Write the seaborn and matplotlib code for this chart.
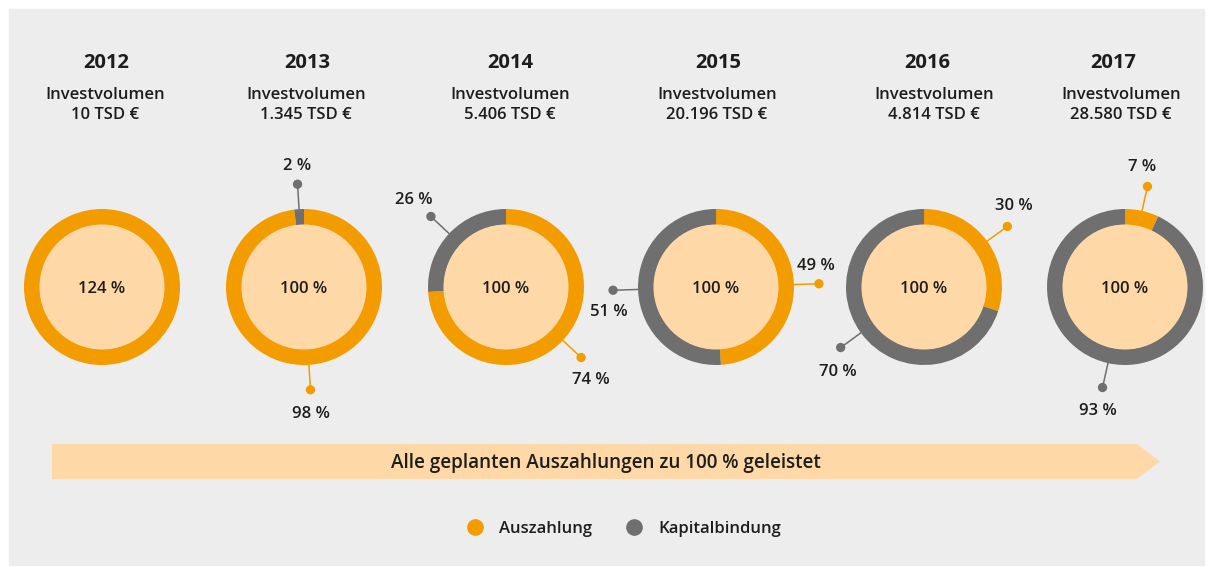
import numpy as np
import pandas as pd
import matplotlib
matplotlib.use('Agg')
import matplotlib.pyplot as plt
from matplotlib.patches import Polygon, Rectangle, Circle
import seaborn as sns

# data
years = ["2012", "2013", "2014", "2015", "2016", "2017"]
invest = ["10", "1.345", "5.406", "20.196", "4.814", "28.580"]
auszahlung = [124, 98, 74, 49, 30, 7]
kapitalbindung = [0, 2, 26, 51, 70, 93]
series = ["Auszahlung", "Kapitalbindung"]
band_text = "Alle geplanten Auszahlungen zu 100 % geleistet"

W, H = 1213, 567
ORANGE = "#f39c00"
GREY = "#6f6f6f"
PEACH = "#fed8a6"
BG = "#ededed"
TXT = "#1d1d1b"
FS = 12

sns.set_theme(style="white")
plt.rcParams['font.family'] = ['Open Sans', 'DejaVu Sans']

# layout (pixel positions, y measured from top)
cx = [102, 304, 506, 716, 924, 1125]
cy_img = 287
year_x = [106, 307, 510, 718, 927, 1113]
sub_x = [105, 306, 510, 717, 934, 1121]
r_out, ring_w, r_dot = 78, 16, 103
# label offsets from the dot (dx, dy down), per year: (Auszahlung, Kapitalbindung)
lab_off = {
    "2013": [(0, 22), (0, -20)],
    "2014": [(10, 20), (-17, -18)],
    "2015": [(-3, -20), (-4, 20)],
    "2016": [(6, -22), (-3, 22)],
    "2017": [(-5, -21), (-5, 21)],
}
TY = 2  # text baseline nudge (px, downward)


def Y(v):
    return H - v


fig = plt.figure(figsize=(W / 100, H / 100), dpi=100, facecolor='white')
fig.patches.append(Rectangle((9 / W, 2 / H), 1195 / W, 556 / H, transform=fig.transFigure,
                             color=BG, zorder=-5))
ax = fig.add_axes([0, 0, 1, 1])
ax.set_facecolor('none')

rows = []
for i, yr in enumerate(years):
    a, k = auszahlung[i], kapitalbindung[i]
    c = (cx[i], Y(cy_img))
    ax.pie([a, k], radius=r_out, center=c, startangle=90, counterclock=False,
           colors=[ORANGE, GREY], wedgeprops=dict(width=ring_w, linewidth=0, edgecolor='none'))
    ax.add_patch(Circle(c, r_out - ring_w + 0.5, color=PEACH, lw=0, zorder=2))
    ax.text(c[0], c[1] - TY, f"{a + k} %", ha='center', va='center', fontsize=FS,
            fontweight='semibold', color=TXT, zorder=3)
    ax.text(year_x[i], Y(61 + TY), yr, ha='center', va='center', fontsize=14.5,
            fontweight='bold', color=TXT)
    ax.text(sub_x[i], Y(93 + TY), "Investvolumen", ha='center', va='center', fontsize=FS,
            fontweight='semibold', color=TXT)
    ax.text(sub_x[i], Y(113 + TY), f"{invest[i]} TSD €", ha='center', va='center', fontsize=FS,
            fontweight='semibold', color=TXT)
    if a == 0 or k == 0:
        continue
    total = a + k
    mids = [a / total / 2, (a + k / 2) / total]
    for j, (s, m, v, col) in enumerate(zip(series, mids, [a, k], [ORANGE, GREY])):
        th = 2 * np.pi * m
        ux, uy = np.sin(th), np.cos(th)
        ax.plot([c[0] + r_out * ux, c[0] + r_dot * ux], [c[1] + r_out * uy, c[1] + r_dot * uy],
                color=col, lw=1.1, zorder=1)
        dx, dy = c[0] + r_dot * ux, c[1] + r_dot * uy
        rows.append({"x": dx, "y": dy, "Reihe": s})
        ox, oy = lab_off[yr][j]
        ax.text(dx + ox, dy - oy - TY, f"{v} %", ha='center', va='center', fontsize=FS,
                fontweight='semibold', color=TXT)

dots = pd.DataFrame(rows)
sns.scatterplot(data=dots, x="x", y="y", hue="Reihe", hue_order=series,
                palette=[ORANGE, GREY], s=45, edgecolor='none', ax=ax, zorder=4)

# arrow band
band = [(52, 444), (1137, 444), (1160, 461.5), (1137, 479), (52, 479)]
ax.add_patch(Polygon([(px, Y(py)) for px, py in band], closed=True, color=PEACH, lw=0))
ax.text(606, Y(461 + TY), band_text, ha='center', va='center', fontsize=13.6,
        fontweight='semibold', color=TXT)

sns.move_legend(ax, "center", bbox_to_anchor=(623 / W, 1 - 529 / H), ncol=2, frameon=False,
                title=None, fontsize=FS, handletextpad=0.85, columnspacing=1.9,
                handlelength=1.2)
leg = ax.get_legend()
for t in leg.get_texts():
    t.set_fontweight('semibold')
    t.set_color(TXT)
for h in leg.legend_handles:
    if hasattr(h, 'set_markersize'):
        h.set_markersize(12)
    else:
        h.set_sizes([150])

ax.set_xlim(0, W)
ax.set_ylim(0, H)
ax.set_axis_off()
fig.savefig("out.png", dpi=100, facecolor='white')
